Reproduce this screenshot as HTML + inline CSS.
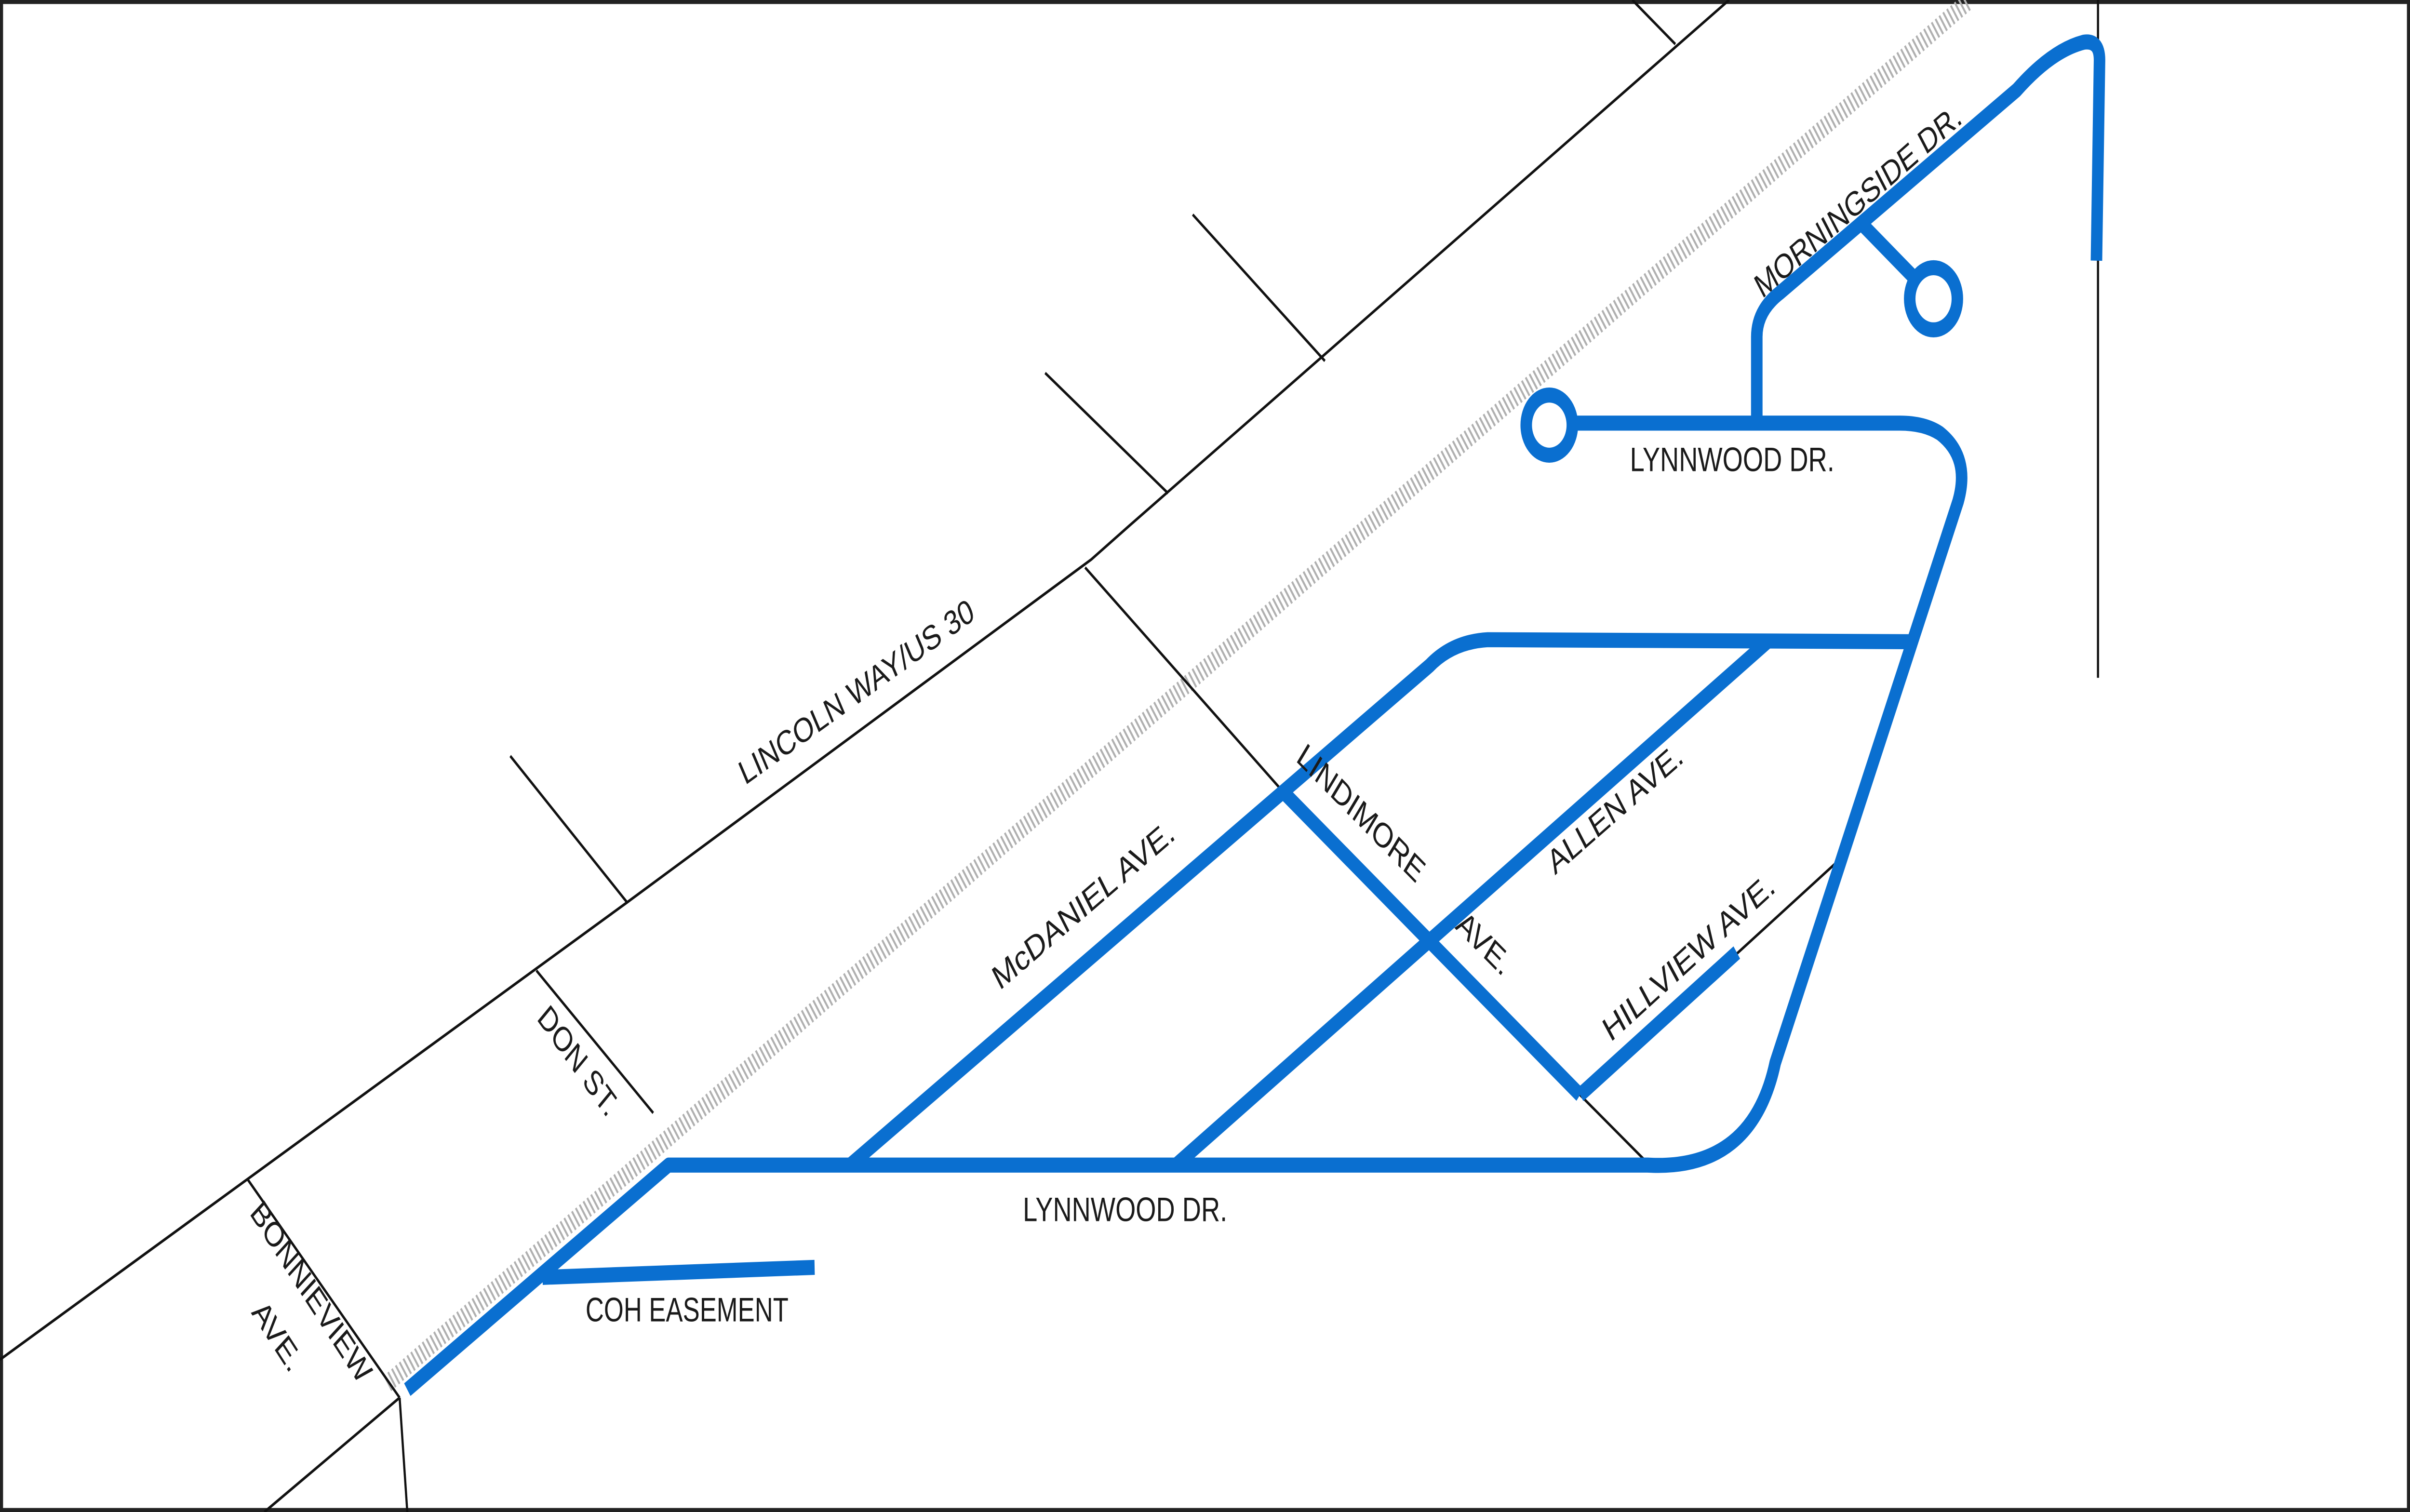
<!DOCTYPE html>
<html><head><meta charset="utf-8"><style>
html,body{margin:0;padding:0;background:#fff;width:100%;height:100%;overflow:hidden;}
svg{display:block;position:fixed;left:0;top:0;width:100vw;height:100vh;}
text{font-family:"Liberation Sans",sans-serif;font-size:17px;fill:#1a1a1a;}
</style></head><body>
<svg viewBox="0 0 1568 754" preserveAspectRatio="none" xmlns="http://www.w3.org/2000/svg">
<rect x="1" y="1" width="1566" height="752" fill="#fff" stroke="#222" stroke-width="2"/>
<line x1="252" y1="690" x2="1280" y2="1" stroke="#b0b0b0" stroke-width="9" stroke-dasharray="1.2 1.8"/>
<g stroke="#111" stroke-width="1.4" fill="none">
<polyline points="0,678 408,450 710,279 735,262 1125,0"/>
<line x1="332" y1="377" x2="408" y2="450"/>
<line x1="680" y1="186" x2="760" y2="246"/>
<line x1="776" y1="107" x2="862" y2="180"/>
<line x1="1062" y1="0" x2="1090" y2="22"/>
<line x1="706" y1="283" x2="835" y2="395"/>
<line x1="1028" y1="546" x2="1072" y2="580"/>
<line x1="349" y1="484" x2="425" y2="555"/>
<line x1="161" y1="588" x2="260" y2="697"/>
<line x1="260" y1="697" x2="265" y2="754"/>
<line x1="260" y1="697" x2="172" y2="754"/>
<line x1="1128" y1="477" x2="1195" y2="430"/>
<line x1="1365" y1="0" x2="1365" y2="338"/>
</g>
<g stroke="#0a6fd0" stroke-width="7.5" fill="none" stroke-linejoin="round">
<path d="M265,693 L435,581 L1072,581 Q1140,584 1155,530 L1274,250 Q1282,228 1262,216 Q1252,211 1236,211 L1024,211"/>
<circle cx="1008" cy="212" r="15"/>
<path d="M553,581 L930,332 Q945,320 968,319 L1243,320"/>
<line x1="765" y1="581" x2="1150" y2="320"/>
<line x1="835" y1="395" x2="1028" y2="546"/>
<line x1="1028" y1="546" x2="1130" y2="475"/>
<line x1="353" y1="637" x2="530" y2="632"/>
<path d="M1143,211 L1143,168 Q1143,155 1158,146 L1312,45 Q1335,25 1356,21 Q1366,20 1366,30 L1364,130"/>
<line x1="1213" y1="113" x2="1246" y2="139"/>
<circle cx="1258" cy="149" r="15.5"/>
</g>
<text transform="translate(560,350) rotate(-29)" text-anchor="middle" textLength="172" lengthAdjust="spacingAndGlyphs">LINCOLN WAY/US 30</text>
<text transform="translate(708,456) rotate(-33.5)" text-anchor="middle" textLength="138" lengthAdjust="spacingAndGlyphs">McDANIEL AVE.</text>
<text transform="translate(882,410) rotate(38)" text-anchor="middle" textLength="100" lengthAdjust="spacingAndGlyphs">LINDIMORE</text>
<text transform="translate(962,475) rotate(38)" text-anchor="middle" textLength="40" lengthAdjust="spacingAndGlyphs">AVE.</text>
<text transform="translate(1054,408) rotate(-34)" text-anchor="middle" textLength="102" lengthAdjust="spacingAndGlyphs">ALLEN AVE.</text>
<text transform="translate(1102,482) rotate(-35)" text-anchor="middle" textLength="132" lengthAdjust="spacingAndGlyphs">HILLVIEW AVE.</text>
<text transform="translate(1212,105) rotate(-34)" text-anchor="middle" textLength="158" lengthAdjust="spacingAndGlyphs">MORNINGSIDE DR.</text>
<text x="1127" y="235" text-anchor="middle" textLength="133" lengthAdjust="spacingAndGlyphs">LYNNWOOD DR.</text>
<text x="732" y="609" text-anchor="middle" textLength="133" lengthAdjust="spacingAndGlyphs">LYNNWOOD DR.</text>
<text x="447" y="659" text-anchor="middle" textLength="132" lengthAdjust="spacingAndGlyphs">COH EASEMENT</text>
<text transform="translate(372,533) rotate(47)" text-anchor="middle" textLength="68" lengthAdjust="spacingAndGlyphs">DON ST.</text>
<text transform="translate(198,648) rotate(50)" text-anchor="middle" textLength="112" lengthAdjust="spacingAndGlyphs">BONNIEVIEW</text>
<text transform="translate(176,670) rotate(50)" text-anchor="middle" textLength="40" lengthAdjust="spacingAndGlyphs">AVE.</text>
</svg>
</body></html>
